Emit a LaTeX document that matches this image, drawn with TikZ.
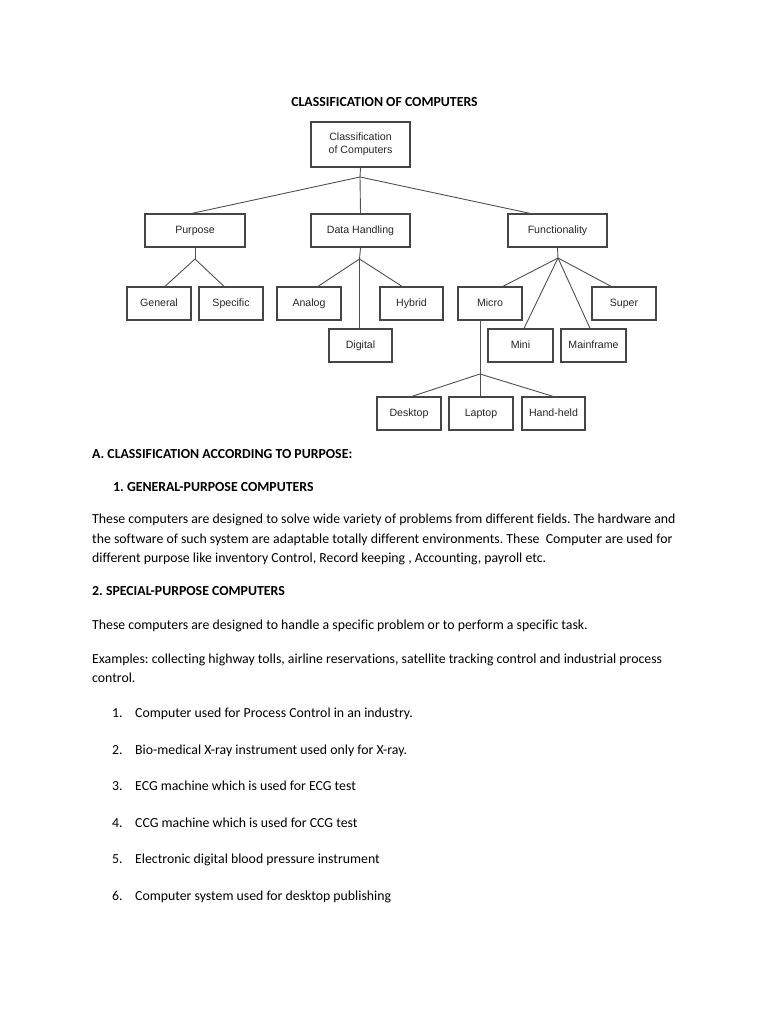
\documentclass[tikz,border=0pt]{standalone}
\usepackage{fontspec}
\setmainfont[Ligatures={NoCommon}]{Carlito}
\newfontfamily\diagfont{Liberation Sans}
\definecolor{boxline}{HTML}{454545}
\definecolor{boxtext}{HTML}{262626}
\definecolor{conn}{HTML}{505050}
\begin{document}
\frenchspacing
\begin{tikzpicture}[x=1pt,y=-1pt,
  box/.style={draw=boxline, line width=1.3pt, inner sep=0pt, minimum height=33pt,
    text=boxtext, font=\diagfont\fontsize{10.6}{13.5}\selectfont, align=center},
  sbox/.style={box, text height=7.7pt, text depth=2.3pt},
  conn/.style={draw=conn, line width=0.9pt},
  txt/.style={anchor=base west, inner sep=0pt, font=\fontsize{13.8}{19.5}\selectfont},
  hdr/.style={txt, font=\fontsize{13.8}{19.5}\selectfont\bfseries}]
\useasboundingbox[fill=white] (0,0) rectangle (768,1024);

% title
\node[anchor=base, inner sep=0pt, font=\fontsize{13.8}{19.5}\selectfont\bfseries] (title) at (384.5,106.5) {CLASSIFICATION OF COMPUTERS};

% boxes
\node[box, minimum width=99pt, minimum height=45pt] (root) at (360.5,144.5) {Classification\\of Computers};
\node[sbox, minimum width=100pt] (purpose) at (195,230.5) {Purpose};
\node[sbox, minimum width=99pt] (data) at (360.5,230.5) {Data Handling};
\node[sbox, minimum width=99pt] (func) at (557.5,230.5) {Functionality};
\node[sbox, minimum width=64pt] (general) at (159,303.5) {General};
\node[sbox, minimum width=64pt] (specific) at (231,303.5) {Specific};
\node[sbox, minimum width=64pt] (analog) at (309,303.5) {Analog};
\node[sbox, minimum width=63pt] (hybrid) at (411.5,303.5) {Hybrid};
\node[sbox, minimum width=63pt] (digital) at (360.5,345.5) {Digital};
\node[sbox, minimum width=64pt] (micro) at (490,303.5) {Micro};
\node[sbox, minimum width=64pt] (super) at (624,303.5) {Super};
\node[sbox, minimum width=65pt] (mini) at (520.5,345.5) {Mini};
\node[sbox, minimum width=65pt] (mainframe) at (593.5,345.5) {Mainframe};
\node[sbox, minimum width=64pt] (desktop) at (409,413.5) {Desktop};
\node[sbox, minimum width=64pt] (laptop) at (481,413.5) {Laptop};
\node[sbox, minimum width=63pt] (handheld) at (553.5,413.5) {Hand-held};

% junctions
\coordinate (j0) at (360,177);
\coordinate (jp) at (195,259);
\coordinate (jd) at (359.5,259);
\coordinate (jf) at (558,258);
\coordinate (jm) at (480,374);

% connectors
\draw[conn] (root.south) -- (j0);
\draw[conn] (j0) -- ([xshift=-3pt]purpose.north);
\draw[conn] (j0) -- (data.north);
\draw[conn] (j0) -- ([xshift=-27.5pt]func.north);

\draw[conn] (purpose.south) -- (jp);
\draw[conn] (jp) -- ([xshift=6pt]general.north);
\draw[conn] (jp) -- ([xshift=-7pt]specific.north);

\draw[conn] (data.south) -- (jd);
\draw[conn] (jd) -- ([xshift=9pt]analog.north);
\draw[conn] (jd) -- ([xshift=-9.5pt]hybrid.north);
\draw[conn] (jd) -- ([xshift=-1pt]digital.north);

\draw[conn] (func.south) -- (jf);
\draw[conn] (jf) -- ([xshift=13pt]micro.north);
\draw[conn] (jf) -- ([xshift=3.5pt]mini.north);
\draw[conn] (jf) -- ([xshift=-3.5pt]mainframe.north);
\draw[conn] (jf) -- ([xshift=-13pt]super.north);

\draw[conn] ([xshift=-10pt]micro.south) -- (jm);
\draw[conn] (jm) -- ([xshift=3pt]desktop.north);
\draw[conn] (jm) -- ([xshift=-1pt]laptop.north);
\draw[conn] (jm) -- ([xshift=-0.5pt]handheld.north);

% text
\node[hdr] (ha) at (92,458.5) {A. CLASSIFICATION ACCORDING TO PURPOSE:};
\node[hdr] (h1) at (113,491.5) {1. GENERAL-PURPOSE COMPUTERS};
\node[txt] (p1a) at (92,523.5) {These computers are designed to solve wide variety of problems from different fields. The hardware and};
\node[txt] (p1b) at (92,543.5) {the software of such system are adaptable totally different environments. These\ \ Computer are used for};
\node[txt] (p1c) at (92,562.5) {different purpose like inventory Control, Record keeping , Accounting, payroll etc.};
\node[hdr] (h2) at (92,595) {2. SPECIAL-PURPOSE COMPUTERS};
\node[txt] (p2) at (92,629.5) {These computers are designed to handle a specific problem or to perform a specific task.};
\node[txt] (p3a) at (92,663.5) {Examples: collecting highway tolls, airline reservations, satellite tracking control and industrial process};
\node[txt] (p3b) at (92,682.5) {control.};

\foreach \n/\y/\t in {1/717.5/Computer used for Process Control in an industry.,
  2/754.5/Bio-medical X-ray instrument used only for X-ray.,
  3/790.5/ECG machine which is used for ECG test,
  4/827.5/CCG machine which is used for CCG test,
  5/863.5/Electronic digital blood pressure instrument,
  6/900.5/Computer system used for desktop publishing}{
  \node[txt] (num\n) at (112,\y) {\n.};
  \node[txt] (item\n) at (135,\y) {\t};
}
\end{tikzpicture}
\end{document}
